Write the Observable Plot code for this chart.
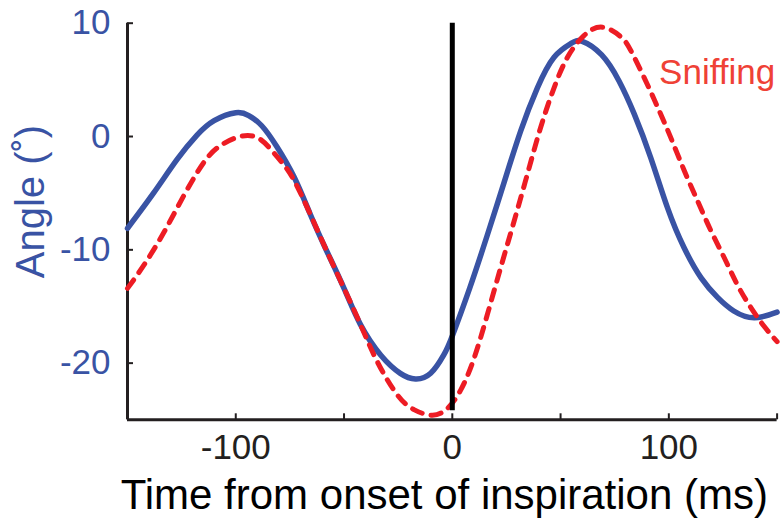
<!DOCTYPE html>
<html>
<head>
<meta charset="utf-8">
<script src="https://cdn.jsdelivr.net/npm/d3@7"></script>
<script src="https://cdn.jsdelivr.net/npm/@observablehq/plot@0.6"></script>
<style>
  html, body { margin: 0; padding: 0; background: #fff; }
</style>
</head>
<body>
<div id="chart"></div>
<script>
// ---- data ----
const blueTime  = [-150, -138, -127, -118, -110, -100, -94, -88, -81, -73, -65.5, -58, -50, -42.4, -33, -24, -17, -10, -4, 0, 8, 16, 24, 31.6, 39.3, 47, 54.7, 60, 69, 77, 84, 91.7, 99.4, 107, 115, 122.5, 130, 139.4, 150];
const blueAngle = [-8.1, -5.0, -2.0, 0.1, 1.4, 2.1, 1.85, 0.95, -0.9, -3.6, -6.9, -10.1, -13.4, -16.6, -19.3, -20.9, -21.4, -20.9, -19.3, -17.6, -13.4, -8.8, -4.0, 0.5, 4.3, 7.0, 8.2, 8.4, 7.2, 4.9, 2.0, -1.9, -6.3, -9.8, -12.5, -14.2, -15.4, -16.0, -15.5];

const redTime  = [-150, -142.6, -133.3, -124.1, -114.8, -107.1, -98, -90, -84, -78.6, -73, -65.5, -58, -50, -42.4, -34.7, -25.4, -17.7, -9.2, -2.3, 3.8, 10, 16.2, 22.3, 28.5, 34.7, 40.8, 47, 53.2, 60.8, 69.3, 77.8, 82.4, 88.6, 94.8, 100.9, 107.1, 113.3, 119.4, 125.6, 131.7, 137.9, 144, 150];
const redAngle = [-13.4, -11.4, -8.5, -5.25, -2.3, -0.8, 0.0, -0.1, -1.1, -2.3, -3.9, -6.9, -10.1, -13.4, -16.6, -19.85, -22.8, -24.1, -24.6, -24.0, -22.4, -19.6, -15.7, -11.6, -7.5, -3.3, 0.8, 4.3, 7.0, 8.9, 9.65, 8.8, 7.6, 5.2, 2.6, -0.1, -3.0, -5.7, -8.3, -10.7, -13.1, -15.1, -16.75, -18.1];

const xDomain = [-150, 150];
const yDomain = [-25, 10];
const xTicks = [-150, -100, -50, 0, 50, 100, 150];
const xTickLabels = [-100, 0, 100];
const yTicks = [-20, -10, 0, 10];
const onsetTime = [0];
const onsetSpan = [-24.2, 10];
const seriesLabel = ["Sniffing"];
const seriesLabelTime = [95.5];
const seriesLabelAngle = [6.85];
const xLabel = "Time from onset of inspiration (ms)";
const yLabel = "Angle (˚)";

// ---- build tables ----
const blue = blueTime.map((t, i) => ({t, a: blueAngle[i]}));
const red = redTime.map((t, i) => ({t, a: redAngle[i]}));
const labels = seriesLabel.map((s, i) => ({s, t: seriesLabelTime[i], a: seriesLabelAngle[i]}));

const W = 783, H = 519;
const mL = 127, mR = 6.4, mT = 22.7, mB = 99.7;
const innerW = W - mL - mR, innerH = H - mT - mB;
const BLUE = "#3953a4", RED = "#ed1c24", LABELRED = "#ef4136", AXIS = "#231f20";
const fmt = d => String(d);

const chart = Plot.plot({
  width: W, height: H,
  marginLeft: mL, marginRight: mR, marginTop: mT, marginBottom: mB,
  style: {fontFamily: '"Liberation Sans", Arial, Helvetica, sans-serif', background: "#fff", overflow: "visible"},
  x: {domain: xDomain},
  y: {domain: yDomain},
  marks: [
    // inward ticks
    Plot.ruleX(xTicks, {x: d => d, insetTop: innerH - 6, stroke: AXIS, strokeWidth: 2}),
    Plot.ruleY(yTicks, {y: d => d, insetRight: innerW - 6, stroke: AXIS, strokeWidth: 2}),
    // axis lines
    Plot.ruleX([xDomain[0]], {x: d => d, stroke: AXIS, strokeWidth: 3}),
    Plot.ruleY([yDomain[0]], {y: d => d, stroke: AXIS, strokeWidth: 3}),
    // tick labels
    Plot.axisX(xTickLabels, {tickSize: 0, tickPadding: 14, fontSize: 35, label: null, color: AXIS, tickFormat: fmt}),
    Plot.axisY(yTicks, {tickSize: 0, tickPadding: 17, fontSize: 35, label: null, color: BLUE, tickFormat: fmt}),
    // data
    Plot.line(blue, {x: "t", y: "a", stroke: BLUE, strokeWidth: 5.5, curve: "natural"}),
    Plot.line(red, {x: "t", y: "a", stroke: RED, strokeWidth: 5, strokeDasharray: "10.5,9", curve: "natural"}),
    Plot.ruleX(onsetTime, {x: d => d, y1: onsetSpan[0], y2: onsetSpan[1], stroke: "#000", strokeWidth: 5}),
    // labels
    Plot.text(labels, {x: "t", y: "a", text: "s", textAnchor: "start", lineAnchor: "top", fontSize: 35, fill: LABELRED}),
    Plot.text([xLabel], {frameAnchor: "bottom", dy: 59, dx: -8, fontSize: 42, lineAnchor: "top", fill: "#000"}),
    Plot.text([yLabel], {frameAnchor: "left", rotate: -90, dx: -112, dy: -20, fontSize: 40, lineAnchor: "top", textAnchor: "middle", fill: BLUE})
  ]
});
document.getElementById("chart").appendChild(chart);
</script>
</body>
</html>
